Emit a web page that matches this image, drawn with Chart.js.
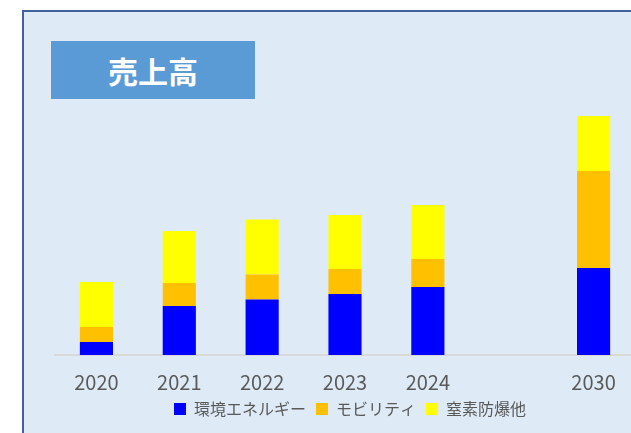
<!DOCTYPE html>
<html>
<head>
<meta charset="utf-8">
<script src="https://cdn.jsdelivr.net/npm/chart.js@4.4.1/dist/chart.umd.min.js"></script>
<style>
    html, body { margin: 0; padding: 0; width: 631px; height: 433px; overflow: hidden; background: #ffffff; }
    #frame {
        position: absolute; left: 22px; top: 10px; width: 700px; height: 500px;
        background: #deebf7; border-left: 2px solid #41609c; border-top: 2px solid #41609c;
    }
    #titleBox {
        position: absolute; left: 51px; top: 41px; width: 204px; height: 58px;
        background: #5b9bd5; color: #ffffff;
        font-family: "Noto Sans CJK JP", sans-serif; font-weight: bold; font-size: 30px;
        line-height: 58px; text-align: center;
    }
</style>
</head>
<body>
<div id="frame"></div>
<canvas id="salesChart" width="660" height="433" style="position:absolute;left:0;top:0;"></canvas>
<div id="titleBox">売上高</div>

<script>
// 売上高 (arbitrary units)
const years = ["2020", "2021", "2022", "2023", "2024", "", "2030"];
const energy = [13, 49, 55.5, 61, 68, null, 87];
const mobility = [15, 23, 25, 25, 28, null, 97];
const others = [45, 52, 55, 54, 54, null, 55];

const ctx = document.getElementById("salesChart");

new Chart(ctx, {

    type: "bar",

    data: {
        labels: years,

        datasets: [
            { label: "環境エネルギー", data: energy, backgroundColor: "#0000ff" },
            { label: "モビリティ", data: mobility, backgroundColor: "#ffc000" },
            { label: "窒素防爆他", data: others, backgroundColor: "#ffff00" }
        ]
    },

    options: {

        responsive: false,
        animation: false,
        devicePixelRatio: 1,

        datasets: {
            bar: { barPercentage: 0.4, categoryPercentage: 1 }
        },

        layout: {
            padding: { left: 55, right: 15, top: 40, bottom: 6 }
        },

        plugins: {
            legend: {
                display: true,
                position: "bottom",
                labels: {
                    boxWidth: 12,
                    boxHeight: 12,
                    padding: 10,
                    color: "#595959",
                    font: { family: "Noto Sans CJK JP", size: 16 }
                }
            },
            tooltip: { enabled: false }
        },

        scales: {
            x: {
                stacked: true,
                grid: { display: false, drawTicks: false },
                border: { display: true, color: "#d9d9d9", width: 2 },
                ticks: {
                    color: "#595959",
                    padding: 17,
                    font: { family: "Noto Sans CJK JP", size: 20, lineHeight: 1 }
                },
                // the axis reserves padding below the labels too; give it back to the plot
                afterFit: s => { s.height -= 18; }
            },
            y: {
                stacked: true,
                position: "right",
                min: 0,
                max: 315,
                ticks: { display: false },
                grid: { display: false },
                border: { display: false },
                afterFit: s => { s.width = 10; }
            }
        }

    }

});
</script>
</body>
</html>
